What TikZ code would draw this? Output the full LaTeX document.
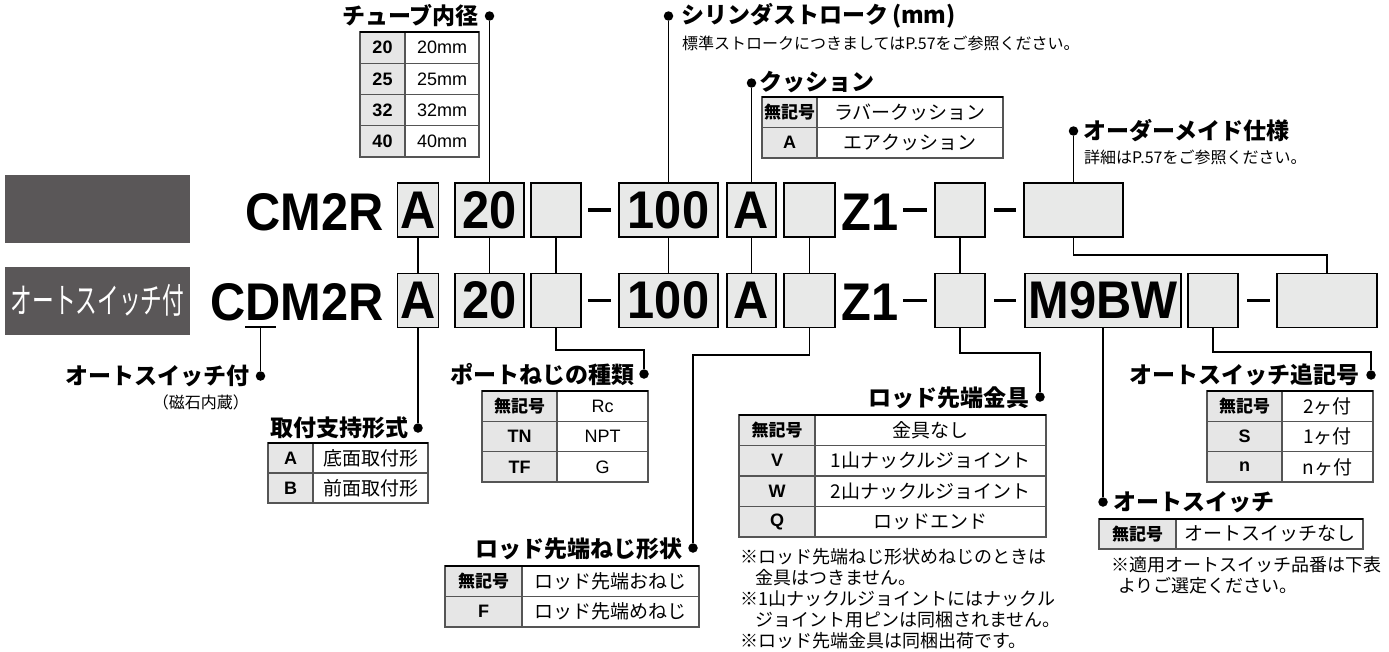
\documentclass[tikz,border=0pt]{standalone}
\usepackage{fontspec}
\newfontfamily\jp{Noto Sans CJK JP}
\newfontfamily\jpcond[FakeStretch=0.62]{Noto Sans CJK JP}
\newfontfamily\lat{Liberation Sans}
\newfontfamily\codefont[FakeStretch=0.92]{Liberation Sans}
\definecolor{boxfill}{HTML}{E8E9E8}
\definecolor{keyfill}{HTML}{E6E6E6}
\definecolor{labelgray}{HTML}{5A5758}
\definecolor{cellgray}{HTML}{555555}
\newcommand\keyjp{\jp\bfseries\fontsize{17}{19}\selectfont}
\newcommand\keylat{\lat\bfseries}
\newcommand\valjp{\jp\fontsize{19}{21}\selectfont}
\newcommand\vallat{\lat}
% #1 name, #2 x0, #3 xsplit, #4 x1, #5 y0, #6 y1, #7 key, #8 value
\newcommand\keyrow[8]{%
  \path[fill=keyfill] (#2,#5) rectangle (#3,#6);
  \draw[cellline] (#2,#5) rectangle (#4,#6) (#3,#5) -- (#3,#6);
  \node[celltext] (#1k) at ({(#2+#3)/2},{(#5+#6)/2}) {#7};
  \node[celltext] (#1v) at ({(#3+#4)/2},{(#5+#6)/2}) {#8};
}
\begin{document}
\begin{tikzpicture}[x=1pt,y=-1pt,
  codebox/.style={draw, line width=1.6pt, fill=boxfill, inner sep=0pt, minimum height=54pt,
    font=\codefont\bfseries\fontsize{53}{53}\selectfont},
  codetext/.style={inner sep=0pt, font=\codefont\bfseries\fontsize{53}{53}\selectfont},
  labelbox/.style={fill=labelgray, inner sep=0pt, minimum width=185pt, minimum height=68pt, text=white},
  conn/.style={line width=1.8pt},
  dashmark/.style={line width=3.2pt},
  dotn/.style={circle, fill=black, inner sep=0pt, minimum size=9.5pt},
  title/.style={inner sep=0pt, font=\jp\bfseries\fontsize{23}{26}\selectfont},
  subt/.style={inner sep=0pt, font=\jp\fontsize{16}{18}\selectfont},
  note/.style={inner sep=0pt, anchor=west, font=\jp\fontsize{18}{20}\selectfont},
  celltext/.style={inner sep=0pt, font=\fontsize{18}{20}\selectfont},
  cellline/.style={line width=1.2pt, draw=cellgray},
  topline/.style={line width=2.4pt, draw=black}
]
\useasboundingbox (0,0) rectangle (1389,651);

% grey labels
\node[labelbox] (lab1) at (97.5,209) {};
\node[labelbox] (lab2) at (97.5,300.5) {\jpcond\fontsize{35}{35}\selectfont オートスイッチ付};

% model codes
\node[codetext, anchor=east] (m1) at (384,212) {CM2R};
\node[codetext, anchor=east] (m2) at (384,302) {CDM2R};

% row 1
\node[codebox, minimum width=41pt] (a1) at (418,210) {A};
\node[codebox, minimum width=69pt] (b1) at (489.5,210) {20};
\node[codebox, minimum width=50pt] (c1) at (556,210) {};
\node[codebox, minimum width=99pt] (d1) at (668.5,210) {100};
\node[codebox, minimum width=49pt] (e1) at (751.5,210) {A};
\node[codebox, minimum width=51pt] (f1) at (809.5,210) {};
\node[codetext] (z1) at (870,212) {Z1};
\node[codebox, minimum width=50pt] (g1) at (960,210) {};
\node[codebox, minimum width=99pt] (h1) at (1073.5,210) {};
\draw[dashmark] (588,210) -- (611,210);
\draw[dashmark] (903,210) -- (927,210);
\draw[dashmark] (994,210) -- (1016,210);

% row 2
\node[codebox, minimum width=41pt] (a2) at (418,300.5) {A};
\node[codebox, minimum width=69pt] (b2) at (489.5,300.5) {20};
\node[codebox, minimum width=50pt] (c2) at (556,300.5) {};
\node[codebox, minimum width=99pt] (d2) at (668.5,300.5) {100};
\node[codebox, minimum width=49pt] (e2) at (751.5,300.5) {A};
\node[codebox, minimum width=51pt] (f2) at (809.5,300.5) {};
\node[codetext] (z2) at (870,302) {Z1};
\node[codebox, minimum width=50pt] (g2) at (960,300.5) {};
\node[codebox, minimum width=156pt] (i2) at (1103,300.5) {M9BW};
\node[codebox, minimum width=50pt] (j2) at (1213,300.5) {};
\node[codebox, minimum width=100pt] (h2) at (1327,300.5) {};
\draw[dashmark] (588,300.5) -- (611,300.5);
\draw[dashmark] (903,300.5) -- (927,300.5);
\draw[dashmark] (994,300.5) -- (1016,300.5);
\draw[dashmark] (1247,300.5) -- (1270,300.5);

% row connectors
\foreach \n in {a,b,c,d,e,f,g} \draw[conn] (\n1.south) -- (\n2.north);
\coordinate (hm) at (1200,255);
\draw[conn] (h1.south) |- (hm) -| (h2.north);

% ---- tube bore
\node[dotn] (dTube) at (489.5,16) {};
\draw[conn] (b1.north) -- (dTube);
\node[title, anchor=east] (tTube) at (479,16) {チューブ内径};
\keyrow{tb1}{360}{405}{479}{32}{63.25}{\keylat 20}{\vallat 20mm}
\keyrow{tb2}{360}{405}{479}{63.25}{94.5}{\keylat 25}{\vallat 25mm}
\keyrow{tb3}{360}{405}{479}{94.5}{125.75}{\keylat 32}{\vallat 32mm}
\keyrow{tb4}{360}{405}{479}{125.75}{157}{\keylat 40}{\vallat 40mm}
\draw[topline] (360,32) -- (479,32);

% ---- stroke
\node[dotn] (dStroke) at (668.5,16) {};
\draw[conn] (d1.north) -- (dStroke);
\node[title, anchor=west] (tStroke) at (681,16) {シリンダストローク\,(mm)};
\node[subt, anchor=west] (sStroke) at (682,43) {標準ストロークにつきましてはP.57をご参照ください。};

% ---- cushion
\node[dotn] (dCush) at (751.5,83) {};
\draw[conn] (e1.north) -- (dCush);
\node[title, anchor=west] (tCush) at (759,82) {クッション};
\keyrow{cu1}{762}{817}{1003}{97}{127.5}{\keyjp 無記号}{\valjp ラバークッション}
\keyrow{cu2}{762}{817}{1003}{127.5}{158}{\keylat A}{\valjp エアクッション}
\draw[topline] (762,97) -- (1003,97);

% ---- made to order
\node[dotn] (dOrder) at (1073.5,131) {};
\draw[conn] (h1.north) -- (dOrder);
\node[title, anchor=west] (tOrder) at (1083,131) {オーダーメイド仕様};
\node[subt, anchor=west] (sOrder) at (1084,157) {詳細はP.57をご参照ください。};

% ---- built-in magnet
\coordinate (uL) at (245,327);
\coordinate (uR) at (276,327);
\coordinate (uM) at (260.5,327);
\draw[line width=2pt] (uL) -- (uR);
\node[dotn] (dAuto) at (260.5,376) {};
\draw[conn] (uM) -- (dAuto);
\node[title, anchor=east] (tAuto) at (250,376) {オートスイッチ付};
\node[subt, anchor=east] (sAuto) at (249,402) {（磁石内蔵）};

% ---- mounting
\node[dotn] (dMount) at (418,428) {};
\draw[conn] (a2.south) -- (dMount);
\node[title, anchor=east] (tMount) at (409,428) {取付支持形式};
\keyrow{mt1}{268}{313}{428}{443}{473}{\keylat A}{\valjp 底面取付形}
\keyrow{mt2}{268}{313}{428}{473}{503}{\keylat B}{\valjp 前面取付形}
\draw[topline] (268,443) -- (428,443);

% ---- port thread
\node[dotn] (dPort) at (644,374) {};
\coordinate (pc) at (600,350);
\draw[conn] (c2.south) |- (pc) -| (dPort);
\node[title, anchor=east] (tPort) at (635,375) {ポートねじの種類};
\keyrow{pt1}{482}{557}{648}{391}{421.3}{\keyjp 無記号}{\vallat Rc}
\keyrow{pt2}{482}{557}{648}{421.3}{451.7}{\keylat TN}{\vallat NPT}
\keyrow{pt3}{482}{557}{648}{451.7}{482}{\keylat TF}{\vallat G}
\draw[topline] (482,391) -- (648,391);

% ---- rod end thread
\node[dotn] (dRodT) at (693,548) {};
\coordinate (rt) at (750,355);
\draw[conn] (f2.south) |- (rt) -| (dRodT);
\node[title, anchor=east] (tRodT) at (683,549) {ロッド先端ねじ形状};
\keyrow{rt1}{445}{522}{699}{566}{596.5}{\keyjp 無記号}{\valjp ロッド先端おねじ}
\keyrow{rt2}{445}{522}{699}{596.5}{627}{\keylat F}{\valjp ロッド先端めねじ}
\draw[topline] (445,566) -- (699,566);

% ---- rod end bracket
\node[dotn] (dRodE) at (1040,397) {};
\coordinate (re) at (1000,353);
\draw[conn] (g2.south) |- (re) -| (dRodE);
\node[title, anchor=east] (tRodE) at (1030,398) {ロッド先端金具};
\keyrow{re1}{739}{815}{1046}{415}{445.5}{\keyjp 無記号}{\valjp 金具なし}
\keyrow{re2}{739}{815}{1046}{445.5}{476}{\keylat V}{\valjp 1山ナックルジョイント}
\keyrow{re3}{739}{815}{1046}{476}{506.5}{\keylat W}{\valjp 2山ナックルジョイント}
\keyrow{re4}{739}{815}{1046}{506.5}{537}{\keylat Q}{\valjp ロッドエンド}
\draw[topline] (739,415) -- (1046,415);
\node[note] (n1) at (740,557) {※ロッド先端ねじ形状めねじのときは};
\node[note] (n2) at (755,578) {金具はつきません。};
\node[note] (n3) at (740,599) {※1山ナックルジョイントにはナックル};
\node[note] (n4) at (755,620) {ジョイント用ピンは同梱されません。};
\node[note] (n5) at (740,641) {※ロッド先端金具は同梱出荷です。};

% ---- switch suffix
\node[dotn] (dSuf) at (1371,375) {};
\coordinate (sf) at (1300,352);
\draw[conn] (j2.south) |- (sf) -| (dSuf);
\node[title, anchor=east] (tSuf) at (1360,375) {オートスイッチ追記号};
\keyrow{sx1}{1207}{1282}{1373}{391}{421.3}{\keyjp 無記号}{\valjp 2ヶ付}
\keyrow{sx2}{1207}{1282}{1373}{421.3}{451.7}{\keylat S}{\valjp 1ヶ付}
\keyrow{sx3}{1207}{1282}{1373}{451.7}{482}{\keylat n}{\valjp nヶ付}
\draw[topline] (1207,391) -- (1373,391);

% ---- auto switch
\node[dotn] (dSw) at (1103,502) {};
\draw[conn] (i2.south) -- (dSw);
\node[title, anchor=west] (tSw) at (1113,502) {オートスイッチ};
\keyrow{sw1}{1099}{1176}{1363}{519}{549}{\keyjp 無記号}{\valjp オートスイッチなし}
\draw[topline] (1099,519) -- (1363,519);
\node[note] (n6) at (1111,565) {※適用オートスイッチ品番は下表};
\node[note] (n7) at (1118,586) {よりご選定ください。};
\end{tikzpicture}
\end{document}
